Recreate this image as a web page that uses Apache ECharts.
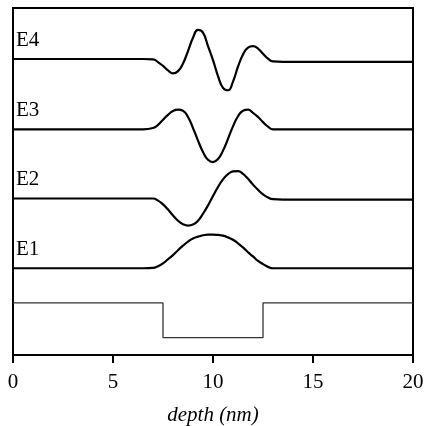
<!DOCTYPE html>
<html>
<head>
<meta charset="utf-8">
<script src="https://cdn.jsdelivr.net/npm/echarts@6/dist/echarts.min.js"></script>
<style>
  html, body { margin: 0; padding: 0; background: #fff; }
  #frame { width: 427px; height: 426px; }
</style>
</head>
<body>
<div id="frame"></div>
<script>
// depth (nm) sample positions
const depthE = [0, 6.5, 7.0, 7.25, 7.5, 7.75, 8.0, 8.25, 8.5, 8.75, 9.0, 9.25, 9.5, 9.75, 10.0,
  10.25, 10.5, 10.75, 11.0, 11.25, 11.5, 11.75, 12.0, 12.25, 12.5, 12.75, 13.0, 13.5, 20];

// amplitudes relative to each level's baseline
const ampE1 = [0, 0, 0.01, 0.06, 0.14, 0.26, 0.38, 0.52, 0.65, 0.77, 0.86, 0.91, 0.95, 0.97, 0.97,
  0.96, 0.94, 0.89, 0.82, 0.72, 0.60, 0.46, 0.34, 0.21, 0.12, 0.04, 0, 0, 0];
const ampE2 = [0.01, 0.01, 0.01, -0.05, -0.16, -0.31, -0.48, -0.63, -0.73, -0.77, -0.74, -0.63, -0.43, -0.19, 0.08,
  0.34, 0.56, 0.71, 0.79, 0.80, 0.72, 0.58, 0.41, 0.26, 0.13, 0.04, -0.01, -0.02, -0.02];
const ampE3 = [0, 0, 0.04, 0.13, 0.28, 0.42, 0.53, 0.57, 0.54, 0.36, 0.04, -0.32, -0.65, -0.875, -0.94,
  -0.85, -0.61, -0.27, 0.09, 0.38, 0.54, 0.57, 0.48, 0.36, 0.21, 0.08, 0, 0, 0];
const ampE4 = [0.03, 0.03, 0.02, -0.06, -0.17, -0.30, -0.385, -0.32, -0.10, 0.26, 0.64, 0.87, 0.79, 0.40, 0,
  -0.46, -0.80, -0.87, -0.62, -0.19, 0.16, 0.36, 0.40, 0.33, 0.18, 0.04, -0.04, -0.05, -0.05];

const levelNames = ['E1', 'E2', 'E3', 'E4'];
const levelBase = [2.5, 4.5, 6.5, 8.5];
const levelAmp = [ampE1, ampE2, ampE3, ampE4];

// quantum well profile
const wellX = [0, 7.5, 7.5, 12.5, 12.5, 20];
const wellY = [1.5, 1.5, 0.5, 0.5, 1.5, 1.5];

const xTicks = [0, 5, 10, 15, 20];

const serif = '"Liberation Serif", "DejaVu Serif", serif';

const series = levelNames.map((name, i) => ({
  name: name,
  type: 'line',
  smooth: 0.5,
  symbol: 'none',
  lineStyle: { color: '#000', width: 2.2 },
  data: depthE.map((d, k) => [d, levelBase[i] + levelAmp[i][k]]),
  markPoint: {
    symbol: 'circle',
    symbolSize: 0,
    silent: true,
    data: [{ coord: [0, levelBase[i] + 0.55] }],
    label: {
      show: true,
      position: 'right',
      distance: 3,
      formatter: name,
      color: '#000',
      fontFamily: serif,
      fontSize: 21
    }
  }
}));

series.push({
  name: 'well',
  type: 'line',
  symbol: 'none',
  lineStyle: { color: '#333', width: 1.3 },
  data: wellX.map((x, k) => [x, wellY[k]])
});

const chart = echarts.init(document.getElementById('frame'));
chart.setOption({
  animation: false,
  backgroundColor: '#fff',
  grid: {
    left: 13, right: 14, top: 8, bottom: 71,
    outerBoundsMode: 'none',
    containLabel: false,
    show: true, borderColor: '#000', borderWidth: 2
  },
  xAxis: {
    type: 'value',
    min: 0, max: 20, interval: 5,
    name: 'depth (nm)',
    nameLocation: 'middle',
    nameGap: 50,
    nameTextStyle: { fontFamily: serif, fontStyle: 'italic', fontSize: 21, color: '#000' },
    axisLine: { show: true, lineStyle: { color: '#000', width: 2 } },
    axisTick: { show: true, inside: false, length: 8, lineStyle: { color: '#000', width: 2 } },
    axisLabel: {
      margin: 17, fontFamily: serif, fontSize: 21, color: '#000',
      formatter: v => (xTicks.indexOf(v) >= 0 ? String(v) : '')
    },
    splitLine: { show: false }
  },
  yAxis: {
    type: 'value',
    min: 0, max: 10,
    axisLine: { show: false },
    axisTick: { show: false },
    axisLabel: { show: false },
    splitLine: { show: false }
  },
  series: series
});
</script>
</body>
</html>
